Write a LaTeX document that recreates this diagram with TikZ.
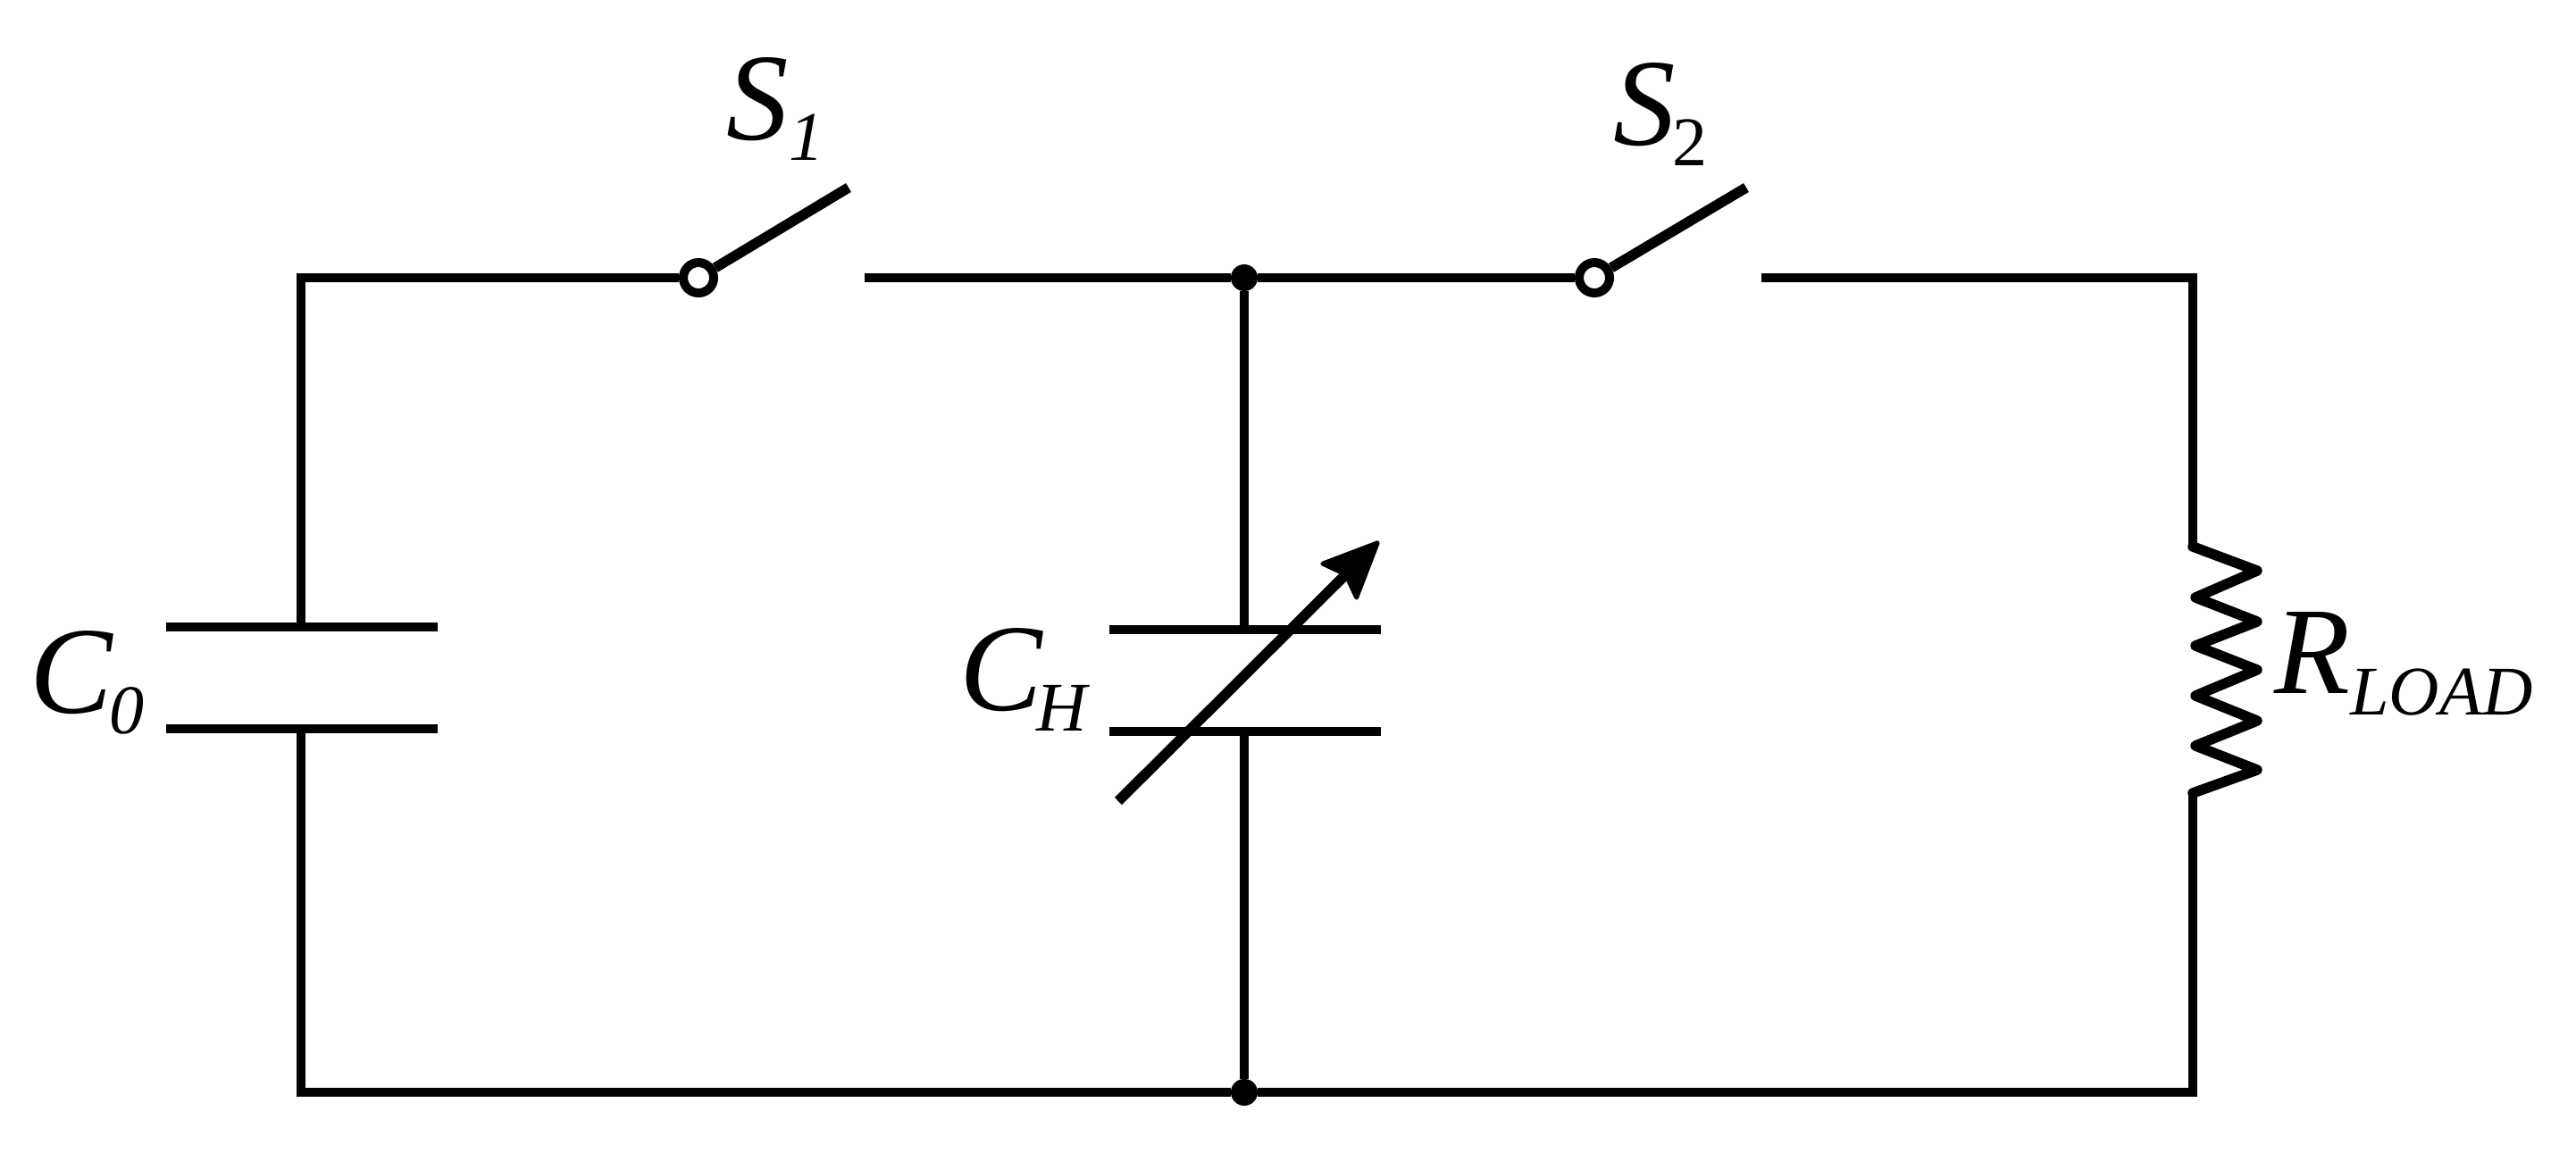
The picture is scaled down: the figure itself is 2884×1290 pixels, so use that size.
\documentclass[tikz,border=0pt]{standalone}
\usepackage{fontspec}
\setmainfont{Liberation Serif}
\usetikzlibrary{arrows.meta}
\newcommand{\sublbl}[4][-.23cm]{{\fontsize{39.5pt}{40pt}\selectfont\itshape #2}\kern#3\raisebox{#1}{\fontsize{22.2pt}{24pt}\selectfont #4}}
\tikzset{
    wire/.style={line width=1mm},
    heavy/.style={line width=1.15mm},
    lbl/.style={inner sep=0pt,anchor=base west},
    sw/.style={circle,draw,line width=1mm,inner sep=0pt,minimum size=3.4mm},
    dot/.style={circle,fill,inner sep=0pt,outer sep=0pt,minimum size=3mm}
}
\begin{document}
\begin{tikzpicture}[x=0.01cm,y=-0.01cm]
    \useasboundingbox (0,0) rectangle (2884,1290);
    % corners and junctions
    \coordinate (tl) at (337,311);
    \coordinate (tr) at (2455,311);
    \coordinate (bl) at (337,1223);
    \coordinate (br) at (2455,1223);
    \node[dot] (jt) at (1393,311) {};
    \node[dot] (jb) at (1393,1223) {};
    % switches
    \node[sw] (swa) at (782,311) {};
    \node[sw] (swb) at (1785,311) {};
    \coordinate (bladea) at (950,210);
    \coordinate (bladeb) at (1955,210);
    \coordinate (conta) at (968,311);
    \coordinate (contb) at (1972,311);
    \draw[heavy] (swa) -- (bladea);
    \draw[heavy] (swb) -- (bladeb);
    \draw[wire] (conta) -- (jt);
    \draw[wire] (jt) -- (swb);
    % left capacitor
    \coordinate (cla) at (186,702);
    \coordinate (cra) at (490,702);
    \coordinate (clb) at (186,816);
    \coordinate (crb) at (490,816);
    \coordinate (cta) at (337,702);
    \coordinate (ctb) at (337,816);
    \draw[wire] (cla) -- (cra);
    \draw[wire] (clb) -- (crb);
    \draw[wire] (cta) -- (tl) -- (swa);
    \draw[wire] (ctb) -- (bl) -- (jb);
    % variable capacitor
    \coordinate (hla) at (1242,705);
    \coordinate (hra) at (1546,705);
    \coordinate (hlb) at (1242,819);
    \coordinate (hrb) at (1546,819);
    \coordinate (hta) at (1393,705);
    \coordinate (htb) at (1393,819);
    \coordinate (arra) at (1252,897);
    \coordinate (arrb) at (1544,606);
    \draw[wire] (hla) -- (hra);
    \draw[wire] (hlb) -- (hrb);
    \draw[wire] (jt) -- (hta);
    \draw[wire] (htb) -- (jb);
    \draw[heavy,-{Stealth[length=7mm,width=6.2mm,inset=1.1mm,round,line width=.5mm]}] (arra) -- (arrb);
    % load
    \coordinate (ra) at (2455,612);
    \coordinate (rb) at (2455,888);
    \draw[wire] (contb) -- (tr) -- (ra);
    \draw[heavy,line join=round,line cap=round] (ra) -- (2527,639) -- (2458,669) -- (2527,696) -- (2458,723)
        -- (2527,750) -- (2458,779) -- (2527,807) -- (2458,835) -- (2527,862) -- (rb);
    \draw[wire] (rb) -- (br) -- (jb);
    % labels
    \node[lbl] (lblsa) at (813,156) {\sublbl{S}{0pt}{\itshape 1}};
    \node[lbl] (lblsb) at (1806,162) {\sublbl{S}{-1pt}{2}};
    \node[lbl] (lblca) at (33,798) {\sublbl{C}{-1pt}{\itshape 0}};
    \node[lbl] (lblch) at (1074,795) {\sublbl{C}{-2pt}{\itshape H}};
    \node[lbl] (lblr) at (2546,776) {\sublbl[-.24cm]{R}{0pt}{\itshape LOAD}};
\end{tikzpicture}
\end{document}
